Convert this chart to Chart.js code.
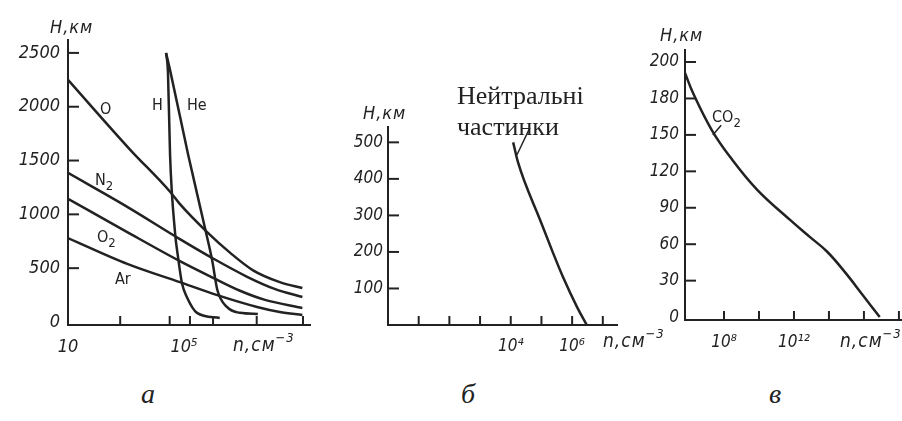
<!DOCTYPE html>
<html>
<head>
<meta charset="utf-8">
<script src="https://cdn.jsdelivr.net/npm/chart.js@4.4.1/dist/chart.umd.min.js"></script>
<style>
  body { margin: 0; width: 902px; height: 421px; overflow: hidden; position: relative; background: #fff; color: #222; font-family: "DejaVu Sans Condensed", "DejaVu Sans", sans-serif; }
  canvas { position: absolute; top: 0; }
  .t { position: absolute; white-space: nowrap; line-height: 1; }
  .ax { font-style: italic; font-size: 18px; letter-spacing: 1px; }
  .nx { font-style: italic; font-size: 19px; letter-spacing: 1px; }
  .nx sup { font-size: 13px; vertical-align: 9px; }
  .lb { font-size: 16px; }
  .lb sub { font-size: 13px; vertical-align: -5px; }
  .serif { font-family: "Liberation Serif", "Times New Roman", serif; }
  .note { font-size: 26px; line-height: 31px; }
  .pl { font-style: italic; font-size: 28px; }
</style>
</head>
<body>
<canvas id="chartA" width="330" height="370" style="left:0"></canvas>
<canvas id="chartB" width="290" height="370" style="left:330px"></canvas>
<canvas id="chartC" width="282" height="370" style="left:620px"></canvas>

<!-- axis titles -->
<div class="t ax" style="left:50px;top:18px">H,км</div>
<div class="t ax" style="left:363px;top:104px">H,км</div>
<div class="t ax" style="left:660px;top:26px">H,км</div>
<div class="t nx" style="left:233px;top:331px">n,см<sup>−3</sup></div>
<div class="t nx" style="left:603px;top:327px">n,см<sup>−3</sup></div>
<div class="t nx" style="left:840px;top:327px">n,см<sup>−3</sup></div>

<!-- curve labels -->
<div class="t lb" style="left:100px;top:101px">O</div>
<div class="t lb" style="left:152px;top:97px">H</div>
<div class="t lb" style="left:187px;top:97px">He</div>
<div class="t lb" style="left:95px;top:172px">N<sub>2</sub></div>
<div class="t lb" style="left:97px;top:229px">O<sub>2</sub></div>
<div class="t lb" style="left:115px;top:271px">Ar</div>
<div class="t lb" style="left:712px;top:109px">CO<sub>2</sub></div>
<div class="t serif note" style="left:457px;top:80px">Нейтральні<br>частинки</div>

<!-- panel letters -->
<div class="t serif pl" style="left:141px;top:380px">а</div>
<div class="t serif pl" style="left:461px;top:380px">б</div>
<div class="t serif pl" style="left:769px;top:380px">в</div>

<script>
// a: concentration n (cm^-3) vs height H (km)
const nO  = [10, 1.4e3, 3.3e4, 7e4, 6e5, 4e6, 2.4e7, 2e8, 1.2e9];
const hO  = [2250, 1600, 1210, 1100, 840, 640, 480, 370, 315];
const nN2 = [10, 1.1e3, 7.2e4, 8e5, 1.5e7, 1.4e8, 1.2e9];
const hN2 = [1385, 1070, 770, 605, 420, 305, 232];
const nO2 = [10, 1.1e3, 7.2e4, 1e6, 8.5e6, 6.2e7, 1.2e9];
const hO2 = [1145, 835, 565, 410, 290, 205, 130];
const nAr = [10, 1.1e3, 7.2e4, 1.4e6, 3.3e7, 2e8, 1.2e9];
const hAr = [780, 540, 370, 250, 140, 93, 65];
const nH  = [2.4e4, 2.8e4, 3.3e4, 4.9e4, 6.2e4, 8.5e4, 1.26e5, 2.8e5, 1.7e6];
const hH  = [2500, 2310, 1550, 830, 605, 360, 230, 85, 37];
const nHe = [2.4e4, 3.3e4, 1.4e5, 5.2e5, 9.3e5, 1.4e6, 3e6, 8.5e6, 3.5e7];
const hHe = [2500, 2340, 1550, 880, 575, 300, 140, 85, 75];
const yTicksA = [0, 500, 1000, 1500, 2000, 2500];
const xTicksA = [10, 1e5];
const xTickTextA = ['10', '10⁵'];
const xMarksA = [6.3e2, 3.2e4, 1.6e5, 1e6, 3.2e7, 1.26e9];

// б: neutral particles
const nB = [1.2e4, 1.7e4, 9e4, 2.2e5, 5e5, 1.45e6, 3e6];
const hB = [500, 447, 288, 205, 132, 49, 0];
const yTicksB = [100, 200, 300, 400, 500];
const xTicksB = [1e4, 1e6];
const xTickTextB = ['10⁴', '10⁶'];
const xMarksB = [1e1, 1e2, 1e3, 1e4, 1e5, 1e6, 1e7];

// в: CO2
const nC = [5.9e5, 1.7e6, 2e7, 2.2e8, 7.7e9, 6e11, 8e12, 7.7e13, 8.2e14, 8.7e15, 8e16];
const hC = [194, 183, 154, 132, 105, 80, 66, 54, 37, 18, 0];
const yTicksC = [0, 30, 60, 90, 120, 150, 180, 200];
const xTicksC = [1e8, 1e12];
const xTickTextC = ['10⁸', '10¹²'];
const xMarksC = [1e8, 1e10, 1e12, 1e14, 1e16, 1e18];

const INK = '#222';
const TICK_FONT = "'DejaVu Sans Condensed', 'DejaVu Sans', sans-serif";

// the в height axis is drawn with equal steps between its labels
function kmToStep(km) {
    for (let i = 1; i < yTicksC.length; i++) {
        if (km <= yTicksC[i]) {
            return i - 1 + (km - yTicksC[i - 1]) / (yTicksC[i] - yTicksC[i - 1]);
        }
    }
    return yTicksC.length - 1;
}

function pts(n, h, f) {
    return n.map(function(v, i) { return {x: v, y: f ? f(h[i]) : h[i]}; });
}

function curve(data, width, smooth) {
    const ds = {
        data: data,
        borderColor: INK,
        borderWidth: width || 2.5,
        pointRadius: 0,
        fill: false
    };
    if (smooth) {
        ds.tension = 0.4;
    } else {
        ds.cubicInterpolationMode = 'monotone';
    }
    return ds;
}

// short tick marks pointing into the plot
const innerTicks = {
    id: 'innerTicks',
    afterDraw: function(chart, args, opts) {
        const ctx = chart.ctx;
        const x = chart.scales.x, y = chart.scales.y;
        ctx.save();
        ctx.strokeStyle = INK;
        ctx.lineWidth = 2;
        (opts.x || []).forEach(function(v) {
            const px = x.getPixelForValue(v);
            ctx.beginPath();
            ctx.moveTo(px, y.bottom);
            ctx.lineTo(px, y.bottom - 9);
            ctx.stroke();
        });
        (opts.y || []).forEach(function(v) {
            const py = y.getPixelForValue(v);
            ctx.beginPath();
            ctx.moveTo(x.left, py);
            ctx.lineTo(x.left + 11, py);
            ctx.stroke();
        });
        ctx.restore();
    }
};

function panel(id, p) {
    const font = {family: TICK_FONT, style: 'italic', size: p.fontSize};
    return new Chart(document.getElementById(id).getContext('2d'), {
        type: 'line',
        data: {datasets: p.datasets},
        plugins: [innerTicks],
        options: {
            responsive: false,
            animation: false,
            events: [],
            layout: {autoPadding: false, padding: {left: 0, top: p.top, right: p.right, bottom: 0}},
            plugins: {
                legend: {display: false},
                tooltip: {enabled: false},
                innerTicks: {x: p.xMarks, y: p.yMarks}
            },
            scales: {
                x: {
                    type: 'logarithmic',
                    min: p.xMin,
                    max: p.xMax,
                    grid: {display: false},
                    border: {display: true, color: INK, width: 2},
                    afterBuildTicks: function(s) { s.ticks = p.xTicks.map(function(v) { return {value: v}; }); },
                    afterFit: function(s) { s.height = p.xHeight; },
                    ticks: {
                        autoSkip: false,
                        maxRotation: 0,
                        padding: p.xPad,
                        color: INK,
                        font: font,
                        callback: function(v) { const i = p.xTicks.indexOf(v); return i >= 0 ? p.xText[i] : ''; }
                    }
                },
                y: {
                    type: 'linear',
                    min: p.yMin,
                    max: p.yMax,
                    grid: {display: false},
                    border: {display: true, color: INK, width: 2},
                    afterBuildTicks: function(s) { s.ticks = p.yTicks.map(function(v) { return {value: v}; }); },
                    afterFit: function(s) { s.width = p.yWidth; },
                    ticks: {
                        autoSkip: false,
                        padding: p.yPad,
                        color: INK,
                        font: font,
                        callback: p.yText || function(v) { return String(v); }
                    }
                }
            }
        }
    });
}

panel('chartA', {
    datasets: [
        curve(pts(nO, hO)), curve(pts(nN2, hN2)), curve(pts(nO2, hO2)),
        curve(pts(nAr, hAr)), curve(pts(nH, hH)), curve(pts(nHe, hHe))
    ],
    top: 40, right: 20, yWidth: 68, xHeight: 45, fontSize: 18, xPad: 4, yPad: 0,
    xMin: 10, xMax: 2.2e9, xTicks: xTicksA, xText: xTickTextA, xMarks: xMarksA,
    yMin: -28, yMax: 2620, yTicks: yTicksA, yMarks: yTicksA.slice(1)
});

panel('chartB', {
    datasets: [
        curve(pts(nB, hB)),
        curve([{x: 1.6e4, y: 466}, {x: 4.2e4, y: 540}], 1.5)
    ],
    top: 127, right: 3, yWidth: 58, xHeight: 45, fontSize: 17, xPad: 3, yPad: -3,
    xMin: 1, xMax: 2.9e7, xTicks: xTicksB, xText: xTickTextB, xMarks: xMarksB,
    yMin: 0, yMax: 542, yTicks: yTicksB, yMarks: yTicksB
});

const stepsC = yTicksC.map(function(v, i) { return i; });
panel('chartC', {
    datasets: [
        curve(pts(nC, hC, kmToStep), 2.5, true),
        curve([{x: 2.3e7, y: kmToStep(150)}, {x: 6.9e7, y: kmToStep(158)}], 1.5)
    ],
    top: 50, right: 0, yWidth: 65, xHeight: 50, fontSize: 17, xPad: 4, yPad: -2,
    xMin: 5.9e5, xMax: 1.5e18, xTicks: xTicksC, xText: xTickTextC, xMarks: xMarksC,
    yMin: -0.08, yMax: 7.33, yTicks: stepsC, yMarks: stepsC.slice(1),
    yText: function(v) { return String(yTicksC[v]); }
});
</script>
</body>
</html>
